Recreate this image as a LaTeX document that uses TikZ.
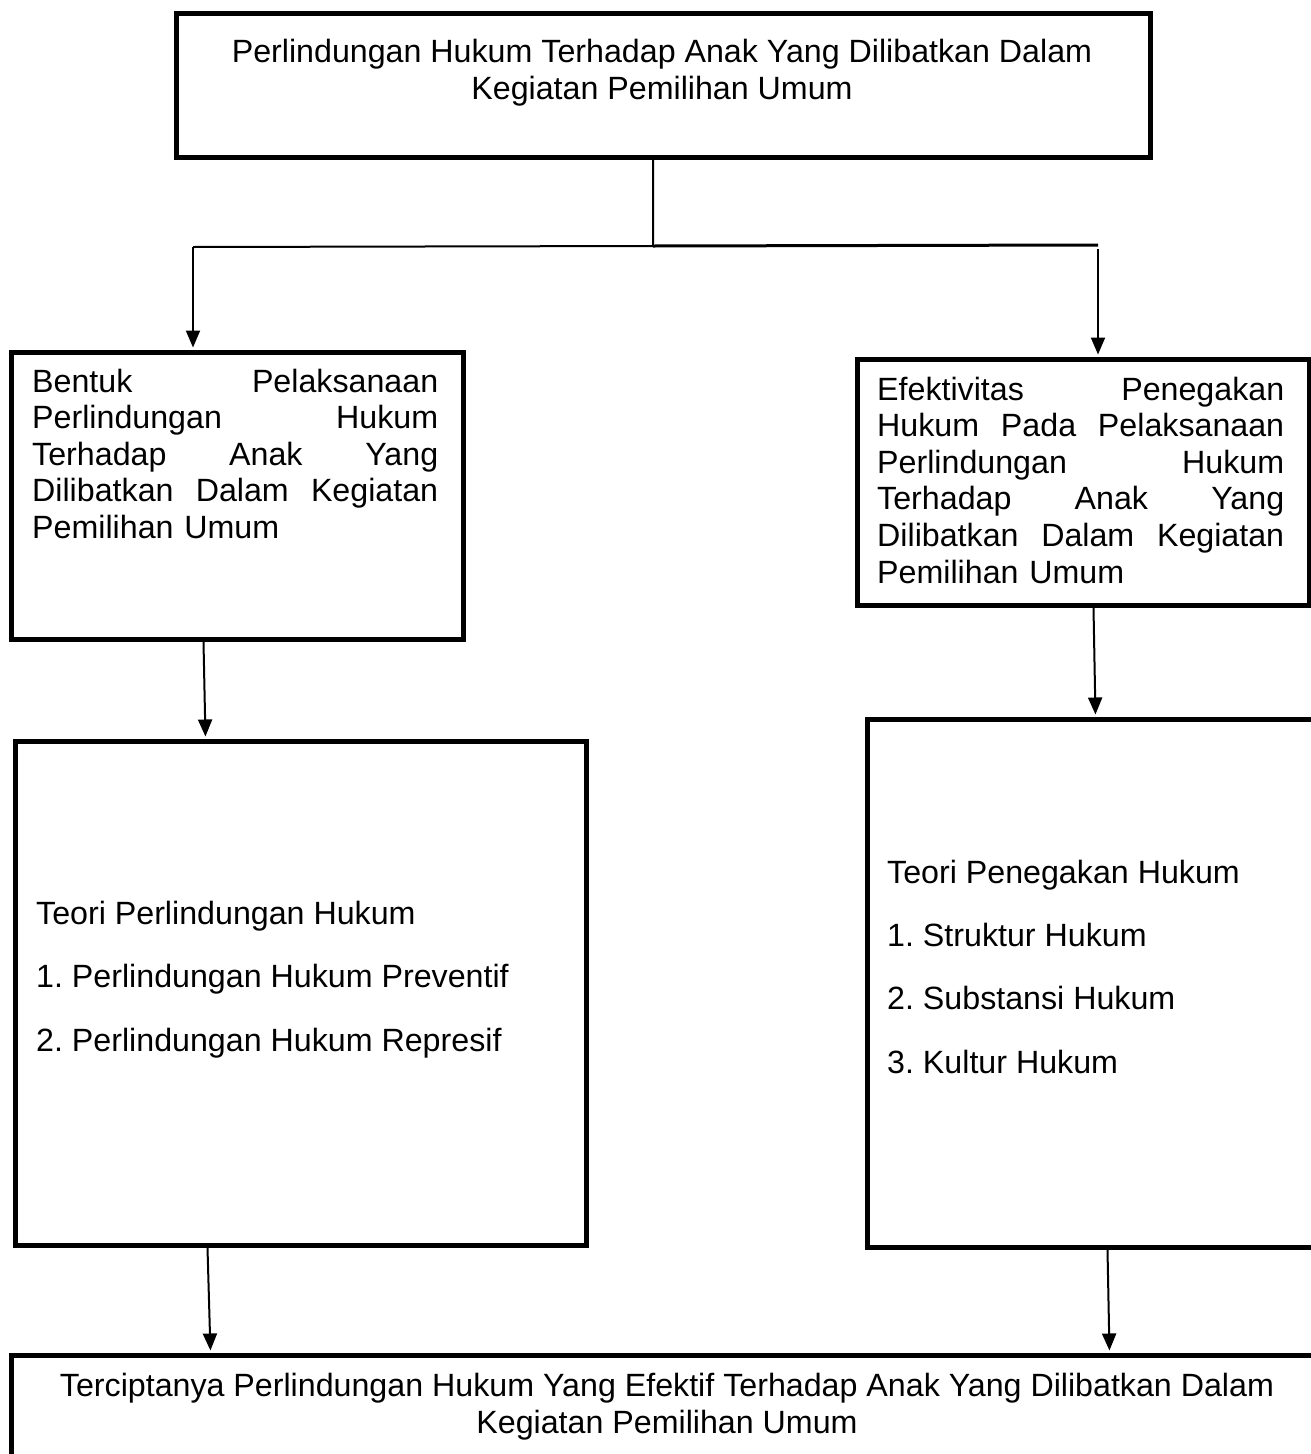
\documentclass[tikz,border=0pt]{standalone}
\usepackage{fontspec}
\setmainfont{Liberation Sans}
\usetikzlibrary{arrows.meta}
\begin{document}
\begin{tikzpicture}[x=1pt,y=-1pt,
  box/.style={draw,line width=5pt,inner sep=0pt,anchor=north west},
  conn/.style={line width=2pt},
  arr/.style={conn,-{Triangle[width=14pt,length=17pt]},shorten >=2.5pt},
  txt/.style={font=\fontsize{32.2}{36.6}\selectfont\frenchspacing, inner sep=0pt},
  list/.style={font=\fontsize{32.2}{63.3}\selectfont\frenchspacing, inner sep=0pt, align=left, anchor=base west}]
\useasboundingbox (0,0) rectangle (1311,1454);
\clip (0,0) rectangle (1311,1454);
\fill[white] (0,0) rectangle (1311,1454);
% boxes
\node[box,minimum width=974pt,minimum height=144pt] (top) at (174,11) {};
\node[box,minimum width=452pt,minimum height=287pt] (lb1) at (9,350) {};
\node[box,minimum width=452pt,minimum height=246pt] (rb1) at (855,357) {};
\node[box,minimum width=571pt,minimum height=504pt] (lb2) at (13,739) {};
\node[box,minimum width=470pt,minimum height=528pt] (rb2) at (865,717) {};
\node[box,minimum width=1330pt,minimum height=130pt] (bot) at (9,1353) {};
% texts
\node[txt,align=center,anchor=base] (ttop) at (662,99)
  {Perlindungan Hukum Terhadap Anak Yang Dilibatkan Dalam\\Kegiatan Pemilihan Umum};
\node[txt,text width=406pt,align=left,anchor=base west] (tlb1) at (32,392)
  {Bentuk\hfill Pelaksanaan\\Perlindungan\hfill Hukum\\Terhadap\hfill Anak\hfill Yang\\Dilibatkan\hfill Dalam\hfill Kegiatan\\Pemilihan Umum};
\node[txt,text width=407pt,align=left,anchor=base west] (trb1) at (877,400)
  {Efektivitas\hfill Penegakan\\Hukum\hfill Pada\hfill Pelaksanaan\\Perlindungan\hfill Hukum\\Terhadap\hfill Anak\hfill Yang\\Dilibatkan\hfill Dalam\hfill Kegiatan\\Pemilihan Umum};
\node[list] (tlb2) at (36,1051)
  {Teori Perlindungan Hukum\\1. Perlindungan Hukum Preventif\\2. Perlindungan Hukum Represif};
\node[list] (trb2) at (887,1073)
  {Teori Penegakan Hukum\\1. Struktur Hukum\\2. Substansi Hukum\\3. Kultur Hukum};
\node[txt,align=center,anchor=base] (tbot) at (667,1433)
  {Terciptanya Perlindungan Hukum Yang Efektif Terhadap Anak Yang Dilibatkan Dalam\\Kegiatan Pemilihan Umum};
% connectors
\coordinate (jn) at (653,246);
\coordinate (jl) at (193,247);
\coordinate (jr) at (1098,245);
\draw[conn] (jn |- top.south) -- (jn) -- (jl);
\draw[conn,line width=3pt] (jn) -- (jr);
\draw[arr] (jl) -- (lb1.north -| jl);
\draw[arr] ([yshift=-4pt]jr) -- (rb1.north -| jr);
\draw[arr] ([xshift=-34pt]lb1.south) -- ([xshift=-95.5pt]lb2.north);
\draw[arr] ([xshift=10pt]rb1.south) -- ([xshift=-7pt]rb2.north);
\draw[arr] ([xshift=-93.5pt]lb2.south) -- ([xshift=-466pt]bot.north);
\draw[arr] ([xshift=5pt]rb2.south) -- ([xshift=433pt]bot.north);
\end{tikzpicture}
\end{document}
